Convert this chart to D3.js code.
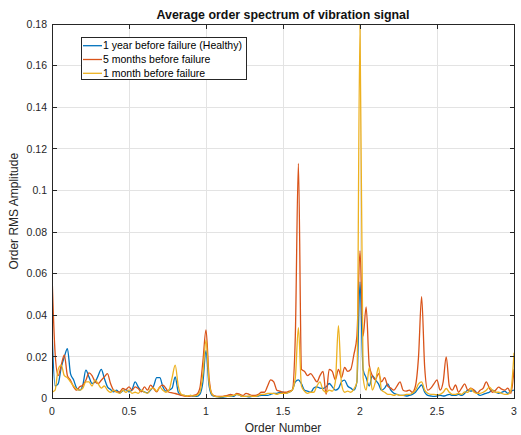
<!DOCTYPE html>
<html>
<head>
<meta charset="utf-8">
<script src="https://cdn.jsdelivr.net/npm/d3@7"></script>
<style>
  html, body { margin: 0; padding: 0; background: #fff; }
  svg text { font-family: "Liberation Sans", Arial, Helvetica, sans-serif; }
</style>
</head>
<body>
<div id="viz"></div>
<script>
// order axis sampled every 0.02 orders, 0..3
const orderStep = 0.02;
const orders = d3.range(0, 151).map(i => +(i * orderStep).toFixed(2));

// amplitudes, in units of 1e-3
const healthy = [
  33, 6, 7, 15, 20, 24, 12, 9, 5, 4,
  6.4, 13.6, 10.4, 7.2, 8, 11, 14, 9.6, 5.6, 4.3,
  3.2, 4, 2.7, 3.7, 4.3, 3.2, 4.3, 8, 5.6, 3.7,
  3.2, 2.7, 4, 6, 10, 10, 5.6, 3.5, 4, 5,
  10.4, 3, 1.5, 1.5, 1, 1.5, 1, 1, 2, 8,
  23, 6, 1.5, 1, 0.8, 0.6, 0.8, 1, 1.2, 1,
  2, 1.5, 1, 1, 0.8, 1, 1, 1.2, 1.5, 1.5,
  1.5, 2, 2.5, 2.5, 3, 3, 2.5, 3, 4, 8,
  9, 7, 4, 3.5, 3, 5, 5.6, 5, 4.8, 5.6,
  7.2, 5.6, 4, 4.8, 8, 8.8, 6, 5, 4, 8,
  56, 14, 10, 6, 11, 9, 7, 4, 5, 7,
  4, 2.5, 2, 1.5, 1.5, 1.2, 1.5, 2, 3, 5,
  6.5, 3, 1.5, 1.2, 1, 1.2, 1.5, 1.2, 1.5, 2,
  1.5, 1.5, 2, 1.5, 2.5, 4, 3.5, 4, 2.5, 1.5,
  2, 2.5, 3, 4, 3, 2.5, 3, 3.5, 2.5, 3.5,
  4
];

const fiveMonths = [
  60, 22, 11, 16, 21, 11, 8.8, 5.6, 4, 5.6,
  6.4, 8.8, 12.3, 11, 8, 7.2, 8.8, 10.4, 12, 7.2,
  4, 3.2, 3.2, 4.8, 4.3, 5.6, 4, 5.6, 4.8, 3.2,
  5.6, 4, 6.4, 4.8, 3.2, 5.6, 6.4, 4.8, 3, 2.7,
  2.4, 2, 1.5, 1.2, 1, 1.2, 1.5, 2, 5, 18,
  33, 10, 2, 1.2, 1, 1, 1.2, 1.5, 2, 1.5,
  2.5, 2, 1.5, 2.5, 2, 1.5, 1.5, 2, 3, 3,
  6, 9, 8, 4, 3.5, 3, 3, 3.5, 4, 30,
  113, 14, 13, 11, 12, 10, 8, 11, 13, 2,
  14, 13, 9, 14, 10, 15, 13, 14, 21, 30,
  71, 30, 44, 16, 11, 9, 12, 8, 10, 6,
  5, 4, 6, 8, 4, 3.5, 4, 3, 6, 20,
  49, 15, 4, 5, 7, 9, 4, 8, 20, 6,
  4, 6.5, 3, 5, 7, 4, 5, 4, 2.5, 4,
  5, 8, 5, 3, 4, 5.5, 4.5, 4, 5, 2.5,
  14
];

const oneMonth = [
  3, 4, 14, 16, 11, 10, 8, 6, 4.5, 4,
  5, 8, 8, 6, 9, 7, 5, 6, 4, 3,
  4, 3, 2.5, 4, 3, 4, 2.5, 3, 2.5, 4,
  3, 2.5, 4.5, 5, 3.5, 5.5, 4, 3, 4, 10,
  16, 6, 2, 1.5, 1.2, 1.5, 1.2, 1.5, 3, 12,
  28, 8, 2, 1, 0.8, 0.8, 1, 1, 1.2, 1.5,
  2, 1.5, 1, 1, 1.2, 1, 1, 1.5, 2, 2,
  2.5, 2.5, 2.5, 2, 2.5, 2.5, 2.5, 3, 4, 10,
  34, 6, 3.5, 2.5, 3, 3, 6, 8, 4, 3,
  4, 3.5, 8, 35, 7, 3, 3.5, 3, 4.5, 8,
  180, 10, 4, 15, 4, 8, 15, 4, 3, 2,
  2, 1.5, 2, 1.5, 1.5, 2, 2, 2.5, 4, 7,
  8, 4, 2.5, 2, 2, 1.8, 2, 3, 4.8, 3,
  2, 2, 2.5, 2, 3.2, 3, 4.8, 3, 2.5, 2.5,
  3, 4, 5.5, 4, 3, 3, 2.5, 2, 2, 4,
  22
];

const seriesNames = ['1 year before failure (Healthy)', '5 months before failure', '1 month before failure'];
const seriesColors = ['#0072BD', '#D95319', '#EDB120'];
const xTicks = [0, 0.5, 1, 1.5, 2, 2.5, 3];
const yTicks = [0, 0.02, 0.04, 0.06, 0.08, 0.1, 0.12, 0.14, 0.16, 0.18];

const W = 521, H = 435;
const plot = { left: 52, right: 514, top: 24, bottom: 398.5 };
const axisColor = '#262626';

const x = d3.scaleLinear().domain([0, 3]).range([plot.left, plot.right]);
const y = d3.scaleLinear().domain([0, 0.18]).range([plot.bottom, plot.top]);

const svg = d3.select('#viz').append('svg')
  .attr('width', W)
  .attr('height', H);

svg.append('rect').attr('width', W).attr('height', H).attr('fill', '#fff');

svg.append('defs').append('clipPath').attr('id', 'clip')
  .append('rect')
  .attr('x', plot.left).attr('y', plot.top)
  .attr('width', plot.right - plot.left).attr('height', plot.bottom - plot.top);

// grid
const grid = svg.append('g');
grid.selectAll('line.gx').data(xTicks).join('line')
  .attr('x1', d => x(d)).attr('x2', d => x(d))
  .attr('y1', plot.top).attr('y2', plot.bottom)
  .attr('stroke', '#e3e3e3').attr('stroke-width', 1)
  .attr('shape-rendering', 'crispEdges');
grid.selectAll('line.gy').data(yTicks).join('line')
  .attr('x1', plot.left).attr('x2', plot.right)
  .attr('y1', d => y(d)).attr('y2', d => y(d))
  .attr('stroke', '#e3e3e3').attr('stroke-width', 1)
  .attr('shape-rendering', 'crispEdges');

// lines
const data = [healthy, fiveMonths, oneMonth];
const line = d3.line()
  .x((d, i) => x(orders[i]))
  .y(d => y(d / 1000))
  .curve(d3.curveMonotoneX);

svg.append('g').attr('clip-path', 'url(#clip)')
  .selectAll('path')
  .data(data)
  .join('path')
  .attr('fill', 'none')
  .attr('stroke', (d, i) => seriesColors[i])
  .attr('stroke-width', 1.3)
  .attr('stroke-linejoin', 'round')
  .attr('d', line);

// axes (MATLAB style: ticks inside, box on)
const tickLen = 4.5;
const axes = svg.append('g')
  .attr('stroke', axisColor)
  .attr('stroke-width', 1)
  .attr('shape-rendering', 'crispEdges');

axes.append('rect')
  .attr('x', plot.left).attr('y', plot.top)
  .attr('width', plot.right - plot.left).attr('height', plot.bottom - plot.top)
  .attr('fill', 'none');

xTicks.forEach(t => {
  axes.append('line').attr('x1', x(t)).attr('x2', x(t))
    .attr('y1', plot.bottom).attr('y2', plot.bottom - tickLen);
  axes.append('line').attr('x1', x(t)).attr('x2', x(t))
    .attr('y1', plot.top).attr('y2', plot.top + tickLen);
});
yTicks.forEach(t => {
  axes.append('line').attr('x1', plot.left).attr('x2', plot.left + tickLen)
    .attr('y1', y(t)).attr('y2', y(t));
  axes.append('line').attr('x1', plot.right).attr('x2', plot.right - tickLen)
    .attr('y1', y(t)).attr('y2', y(t));
});

const fmt = d => d === 0 ? '0' : String(+d.toFixed(2));

svg.append('g').selectAll('text')
  .data(xTicks).join('text')
  .attr('x', d => x(d)).attr('y', 414.5)
  .attr('text-anchor', 'middle')
  .style('font-size', '10.5px').style('fill', axisColor)
  .text(fmt);

svg.append('g').selectAll('text')
  .data(yTicks).join('text')
  .attr('x', 47).attr('y', d => y(d) + 3.8)
  .attr('text-anchor', 'end')
  .style('font-size', '10.5px').style('fill', axisColor)
  .text(fmt);

// labels
svg.append('text')
  .attr('x', (plot.left + plot.right) / 2).attr('y', 432)
  .attr('text-anchor', 'middle')
  .style('font-size', '12px').style('fill', axisColor)
  .text('Order Number');

svg.append('text')
  .attr('transform', `translate(18,${(plot.top + plot.bottom) / 2}) rotate(-90)`)
  .attr('text-anchor', 'middle')
  .style('font-size', '12px').style('fill', axisColor)
  .text('Order RMS Amplitude');

svg.append('text')
  .attr('x', (plot.left + plot.right) / 2).attr('y', 19)
  .attr('text-anchor', 'middle')
  .style('font-size', '12.4px').style('font-weight', 'bold').style('fill', '#111')
  .text('Average order spectrum of vibration signal');

// legend
const legend = svg.append('g');
legend.append('rect')
  .attr('x', 81.5).attr('y', 37.5).attr('width', 165).attr('height', 42)
  .attr('fill', '#fff').attr('stroke', axisColor).attr('stroke-width', 1)
  .attr('shape-rendering', 'crispEdges');

seriesNames.forEach((name, i) => {
  const ry = 45.7 + i * 13.8;
  legend.append('line')
    .attr('x1', 83).attr('x2', 102)
    .attr('y1', ry).attr('y2', ry)
    .attr('stroke', seriesColors[i]).attr('stroke-width', 1.3);
  legend.append('text')
    .attr('x', 103).attr('y', ry + 3.7)
    .style('font-size', '10.5px').style('fill', '#000')
    .text(name);
});
</script>
</body>
</html>
